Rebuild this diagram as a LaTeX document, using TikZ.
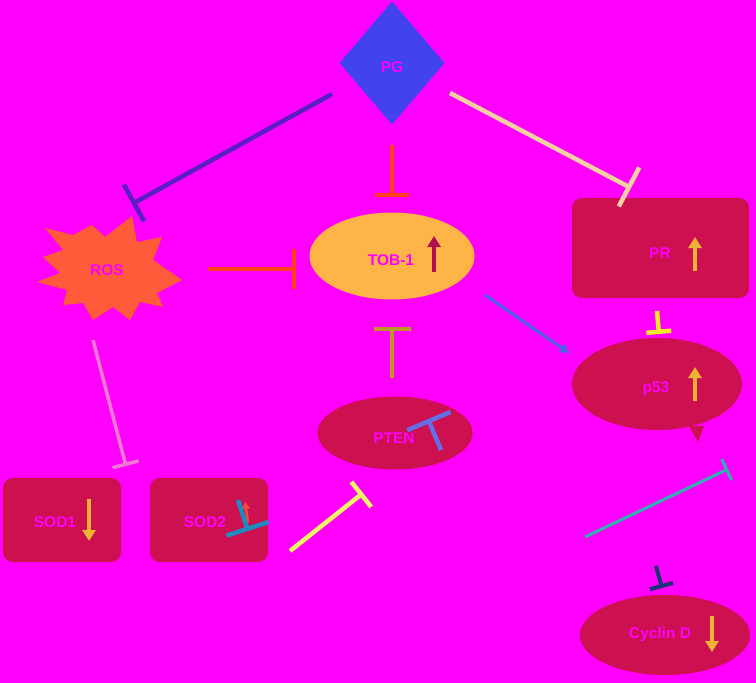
\documentclass[tikz,border=0pt]{standalone}
\usepackage{fontspec}
\setmainfont{Liberation Sans}
\usetikzlibrary{shapes.geometric,arrows.meta}
\definecolor{bgmag}{RGB}{255,0,255}
\definecolor{pgblue}{RGB}{66,66,238}
\definecolor{rosred}{RGB}{255,90,58}
\definecolor{toborange}{RGB}{255,180,72}
\definecolor{crim}{RGB}{204,16,80}
\definecolor{gold}{RGB}{240,178,50}
\definecolor{darkred}{RGB}{176,16,80}
\definecolor{purp}{RGB}{92,30,196}
\definecolor{redor}{RGB}{255,64,24}
\definecolor{beige}{RGB}{246,208,160}
\definecolor{arrblue}{RGB}{80,96,230}
\definecolor{yel}{RGB}{240,232,40}
\definecolor{paleyel}{RGB}{244,244,100}
\definecolor{olive}{RGB}{190,150,40}
\definecolor{teal}{RGB}{48,176,176}
\definecolor{navy}{RGB}{30,50,120}
\definecolor{pinkl}{RGB}{240,120,210}
\definecolor{steel}{RGB}{100,110,230}
\definecolor{tealmark}{RGB}{30,140,190}
\tikzset{
  lbl/.style={font=\fontsize{15.5}{15.5}\selectfont\bfseries, text=bgmag, inner sep=0pt},
  crimnode/.style={fill=crim, draw=none},
  roundbox/.style={crimnode, rectangle, rounded corners=10pt},
  ovalnode/.style={ellipse, draw=none, inner sep=0pt},
  inhib/.style={line width=4.5pt, -{Bar[width=#1]}},
  inhib/.default=40pt,
  uparr/.style={line width=4pt, -{Triangle[width=13pt,length=11pt]}},
}
\begin{document}
\begin{tikzpicture}[x=1pt,y=-1pt]
\fill[bgmag] (0,0) rectangle (756,683);
\useasboundingbox (0,0) rectangle (756,683);

% nodes
\node[diamond, fill=pgblue, minimum width=105pt, minimum height=123pt, inner sep=0pt] (pg) at (392,63) {};
\node[lbl] (pgt) at (392,67) {PG};

\fill[rosred] (45,228) -- (73,235) -- (92,225) -- (105,237) -- (132,216) -- (137,242) -- (162,237) -- (153,260) -- (182,280) -- (157,293) -- (163,307) -- (140,302) -- (130,320) -- (113,307) -- (93,320) -- (83,303) -- (63,305) -- (67,290) -- (37,282) -- (60,273) -- (43,257) -- (63,250) -- cycle;
\node[lbl] (ros) at (107,270) {ROS};

\node[ovalnode, fill=toborange, minimum width=165pt, minimum height=87pt] (tob) at (392,256) {};
\node[lbl] (tobt) at (391,260) {TOB-1};

\node[roundbox, minimum width=177pt, minimum height=100pt] (pr) at (660.5,248) {};
\node[lbl] (prt) at (660,253) {PR};

\fill[crim] (689,426) -- (704,426) -- (698,442) -- cycle;
\node[ovalnode, fill=crim, minimum width=170pt, minimum height=92pt] (p53) at (657,384) {};
\node[lbl] (p53t) at (656,389) {p53};

\node[roundbox, minimum width=118pt, minimum height=84pt] (sod1) at (62,520) {};
\node[lbl] (sod1t) at (55,522) {SOD1};

\node[roundbox, minimum width=118pt, minimum height=84pt] (sod2) at (209,520) {};
\node[lbl] (sod2t) at (205,522) {SOD2};

\node[ovalnode, fill=crim, minimum width=155pt, minimum height=73pt] (pten) at (395,433) {};
\node[lbl] (ptent) at (394,438) {PTEN};

\node[ovalnode, fill=crim, minimum width=170pt, minimum height=80pt] (cyc) at (665,635) {};
\node[lbl] (cyct) at (660,634) {Cyclin D};

% level arrows inside nodes
\coordinate (a1s) at (434,272); \coordinate (a1e) at (434,236);
\draw[uparr, darkred] (a1s) -- (a1e);
\coordinate (a2s) at (695,271); \coordinate (a2e) at (695,237);
\draw[uparr, gold] (a2s) -- (a2e);
\coordinate (a3s) at (695,401); \coordinate (a3e) at (695,367);
\draw[uparr, gold] (a3s) -- (a3e);
\coordinate (a4s) at (89,499); \coordinate (a4e) at (89,541);
\draw[uparr, gold] (a4s) -- (a4e);
\coordinate (a5s) at (712,616); \coordinate (a5e) at (712,652);
\draw[uparr, gold] (a5s) -- (a5e);
\coordinate (a6s) at (248,522); \coordinate (a6e) at (245,502);
\draw[line width=2.5pt, -{Triangle[width=8pt,length=7pt]}, rosred!80!crim] (a6s) -- (a6e);

% connectors
\coordinate (c1s) at (332,94); \coordinate (c1e) at (132,204);
\draw[inhib=42pt, purp] (c1s) -- (c1e);
\coordinate (c2s) at (392,145); \coordinate (c2e) at (392,197);
\draw[inhib=34pt, redor] (c2s) -- (c2e);
\coordinate (c3s) at (450,93); \coordinate (c3e) at (631,188);
\draw[inhib=44pt, beige] (c3s) -- (c3e);
\coordinate (c4s) at (208,269); \coordinate (c4e) at (296,269);
\draw[inhib=40pt, redor] (c4s) -- (c4e);
\coordinate (c5s) at (485,295); \coordinate (c5e) at (569,353);
\draw[line width=3pt, arrblue, -{Triangle[width=10pt,length=9pt]}] (c5s) -- (c5e);
\coordinate (c6s) at (657,311); \coordinate (c6e) at (659,334);
\draw[inhib=25pt, yel] (c6s) -- (c6e);
\coordinate (c7s) at (392,378); \coordinate (c7e) at (392,327);
\draw[inhib=37pt, olive, line width=3.5pt] (c7s) -- (c7e);
\coordinate (c8s) at (290,551); \coordinate (c8e) at (363,493);
\draw[inhib=32pt, paleyel] (c8s) -- (c8e);
\coordinate (c9s) at (585,537); \coordinate (c9e) at (728,469);
\draw[inhib=23pt, teal, line width=3pt] (c9s) -- (c9e);
\coordinate (c10s) at (93,340); \coordinate (c10e) at (126,466);
\draw[inhib=27pt, pinkl, line width=3.5pt] (c10s) -- (c10e);
\coordinate (c11s) at (656,566); \coordinate (c11e) at (662,588);
\draw[inhib=24pt, navy, line width=4pt] (c11s) -- (c11e);

% inhibition marks inside nodes
\coordinate (m1s) at (441,450); \coordinate (m1e) at (428,419);
\draw[inhib=47pt, steel, line width=4.5pt] (m1s) -- (m1e);
\coordinate (m2s) at (238,500); \coordinate (m2e) at (248,531);
\draw[inhib=44pt, tealmark, line width=4.5pt] (m2s) -- (m2e);
\end{tikzpicture}
\end{document}
